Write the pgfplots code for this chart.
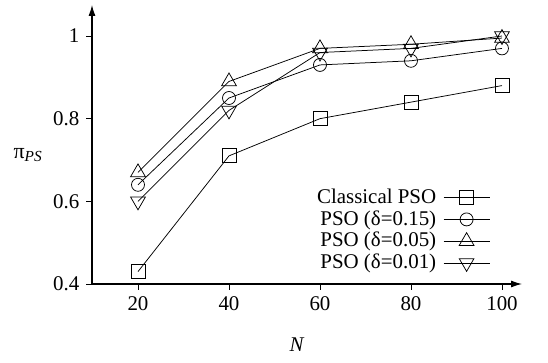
\documentclass[border=0pt]{standalone}
\usepackage{fontspec}
\setmainfont{Liberation Serif}
\usepackage{pgfplots}
\usetikzlibrary{arrows.meta}
\pgfplotsset{compat=1.18}
\begin{document}
\fontsize{21}{24}\selectfont
\begin{tikzpicture}
\begin{axis}[
  scale only axis, width=430bp, height=279bp,
  xmin=9.89, xmax=104.4, ymin=0.4, ymax=1.075,
  axis lines=left,
  axis line style={line width=1.1bp, -{Latex[length=11bp,width=7bp]}},
  xtick={20,40,60,80,100}, ytick={0.4,0.6,0.8,1},
  yticklabels={0.4,0.6,0.8,1},
  tick align=outside, major tick length=5.5bp,
  tick style={line width=0.8bp, black},
  /pgf/number format/assume math mode=true,
  ticklabel style={font=\fontsize{21}{24}\selectfont},
  xlabel={\textit{N}}, xlabel style={at={(axis description cs:0.477,-0.219)}, anchor=center},
  ylabel={\fontsize{22}{24}\selectfont π\textsubscript{\textit{PS}}}, ylabel style={rotate=-90, at={(axis description cs:-0.149,0.462)}, anchor=center},
  every axis plot/.append style={black, line width=0.75bp, mark options={solid, fill=none, line width=0.75bp}},
  legend plot pos=right,
  legend cell align=right,
  legend style={draw=none, fill=none, inner sep=0pt, /tikz/column sep=5bp, at={(rel axis cs:0.926,0.036)}, anchor=south east, font=\fontsize{21}{24}\selectfont},
  legend image code/.code={\draw[mark repeat=2,mark phase=2] plot coordinates {(0bp,0bp)(23bp,0bp)(46bp,0bp)};},
]
\addplot[mark=square, mark size=7bp] coordinates {(20,0.43)(40,0.71)(60,0.80)(80,0.84)(100,0.88)};
\addlegendentry{Classical PSO}
\addplot[mark=o, mark size=6.5bp] coordinates {(20,0.64)(40,0.85)(60,0.93)(80,0.94)(100,0.97)};
\addlegendentry{PSO (δ=0.15)}
\addplot[mark=triangle, mark size=8.5bp] coordinates {(20,0.67)(40,0.89)(60,0.97)(80,0.98)(100,0.995)};
\addlegendentry{PSO (δ=0.05)}
\addplot[mark=triangle, mark options={rotate=180}, mark size=8.5bp] coordinates {(20,0.60)(40,0.82)(60,0.96)(80,0.97)(100,1.0)};
\addlegendentry{PSO (δ=0.01)}
\coordinate (o) at (rel axis cs:0,0);
\end{axis}
\path ([xshift=-92bp,yshift=-79bp]o) rectangle ([xshift=456bp,yshift=284bp]o);
\end{tikzpicture}
\end{document}
